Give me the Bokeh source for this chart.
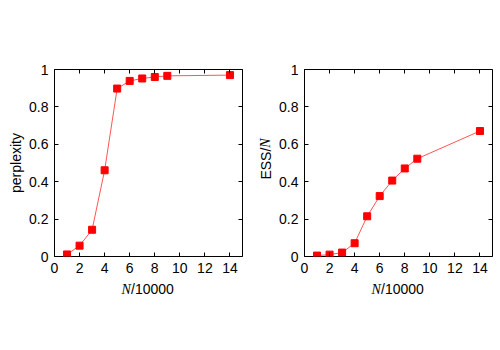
import math
from bokeh.plotting import figure
from bokeh.models import Range1d, LinearAxis, FixedTicker, Label
from bokeh.layouts import row, column
from bokeh.embed import file_html
from bokeh.resources import INLINE

# ---- data ----
n_values = [1, 2, 3, 4, 5, 6, 7, 8, 9, 14]
perplexity = [0.011, 0.058, 0.143, 0.461, 0.898, 0.939, 0.952, 0.960, 0.966, 0.970]
ess_over_n = [0.005, 0.010, 0.021, 0.071, 0.215, 0.323, 0.406, 0.471, 0.523, 0.671]

x_ticks = [0, 2, 4, 6, 8, 10, 12, 14]
x_tick_labels = ["0", "2", "4", "6", "8", "10", "12", "14"]
y_ticks = [0, 0.2, 0.4, 0.6, 0.8, 1.0]
y_tick_labels = ["0", "0.2", "0.4", "0.6", "0.8", "1"]

# ---- layout constants ----
FW, FH = 188, 187
YLAB_W = 26
MAIN_LEFT = 27
MAIN_RIGHT = 8
MAIN_TOP = 69
MAIN_BOTTOM = 26
MAIN_H = MAIN_TOP + FH + MAIN_BOTTOM
XLAB_H = 40
SANS = "Liberation Sans"
SERIF = "Liberation Serif"
FS = "14px"


def style_axis(ax, ticks, labels, show_labels):
    ax.ticker = FixedTicker(ticks=ticks)
    ax.major_label_overrides = {t: l for t, l in zip(ticks, labels)}
    ax.axis_line_color = None
    ax.major_tick_in = 4
    ax.major_tick_out = 0
    ax.major_tick_line_color = "#000000"
    ax.major_tick_line_width = 1
    ax.minor_tick_line_color = None
    ax.major_label_text_font = SANS
    if show_labels:
        ax.major_label_text_color = "#000000"
        ax.major_label_text_font_size = FS
        ax.major_label_standoff = 6
    else:
        ax.major_label_text_color = None
        ax.major_label_text_alpha = 0
        ax.major_label_text_font_size = "1px"
        ax.major_label_standoff = 0


def blank_fig(fw, fh, top=0, bottom=0):
    f = figure(frame_width=fw, frame_height=fh, output_backend="svg",
               toolbar_location=None, x_range=Range1d(0, fw), y_range=Range1d(0, 1),
               x_axis_type=None, y_axis_type=None, min_border=0,
               min_border_left=0, min_border_right=0,
               min_border_top=top, min_border_bottom=bottom,
               background_fill_color="white", border_fill_color="white")
    f.grid.visible = False
    f.outline_line_color = None
    return f


def main_fig(yvals):
    p = figure(frame_width=FW, frame_height=FH, output_backend="svg",
               toolbar_location=None, x_range=Range1d(0, 15), y_range=Range1d(0, 1),
               min_border_left=MAIN_LEFT, min_border_right=MAIN_RIGHT,
               min_border_top=MAIN_TOP, min_border_bottom=MAIN_BOTTOM,
               background_fill_color="white", border_fill_color="white")
    p.grid.visible = False
    p.outline_line_color = "#000000"
    p.outline_line_width = 1
    p.outline_line_alpha = 1
    style_axis(p.xaxis[0], x_ticks, x_tick_labels, True)
    style_axis(p.yaxis[0], y_ticks, y_tick_labels, True)
    top = LinearAxis()
    right = LinearAxis()
    style_axis(top, x_ticks, x_tick_labels, False)
    style_axis(right, y_ticks, y_tick_labels, False)
    p.add_layout(top, "above")
    p.add_layout(right, "right")
    p.line(n_values, yvals, line_color="#ff0000", line_width=0.9, line_alpha=0.75)
    p.scatter(n_values, yvals, marker="square", size=7, fill_color="#ff0000",
              line_color="#ff0000")
    return p


def xlabel_fig():
    w = YLAB_W + MAIN_LEFT + FW + MAIN_RIGHT
    f = blank_fig(w, XLAB_H)
    cx = YLAB_W + MAIN_LEFT + FW / 2
    y = (XLAB_H - 6.5) / XLAB_H
    f.add_layout(Label(x=cx - 26, y=y, text="N",
                       text_font=SERIF, text_font_style="italic", text_font_size=FS,
                       text_align="left", text_baseline="middle", text_color="#000000"))
    f.add_layout(Label(x=cx - 16.5, y=y, text="/10000",
                       text_font=SANS, text_font_size=FS, text_align="left",
                       text_baseline="middle", text_color="#000000"))
    return f


def vlabel(fig, x, y_page, text, font, style="normal"):
    # y_page: vertical pixel position on the page; frame spans MAIN_TOP .. MAIN_TOP+FH
    y = (MAIN_TOP + FH - y_page) / FH
    fig.add_layout(Label(x=x, y=y, text=text, text_font=font,
                         text_font_style=style, text_font_size=FS,
                         angle=math.pi / 2, text_align="center", text_baseline="middle",
                         text_color="#000000"))


# panel 1
yl1 = blank_fig(YLAB_W, FH, MAIN_TOP, MAIN_BOTTOM)
vlabel(yl1, 15.5, 162.5, "perplexity", SANS)
p1 = main_fig(perplexity)
panel1 = column(row(yl1, p1), xlabel_fig())

# panel 2
yl2 = blank_fig(YLAB_W, FH, MAIN_TOP, MAIN_BOTTOM)
vlabel(yl2, 15, 163.1, "ESS/", SANS)
vlabel(yl2, 15, 142.5, "N", SERIF, "italic")
p2 = main_fig(ess_over_n)
panel2 = column(row(yl2, p2), xlabel_fig())

layout = row(panel1, panel2)
open("out.html", "w").write(file_html(layout, INLINE))
